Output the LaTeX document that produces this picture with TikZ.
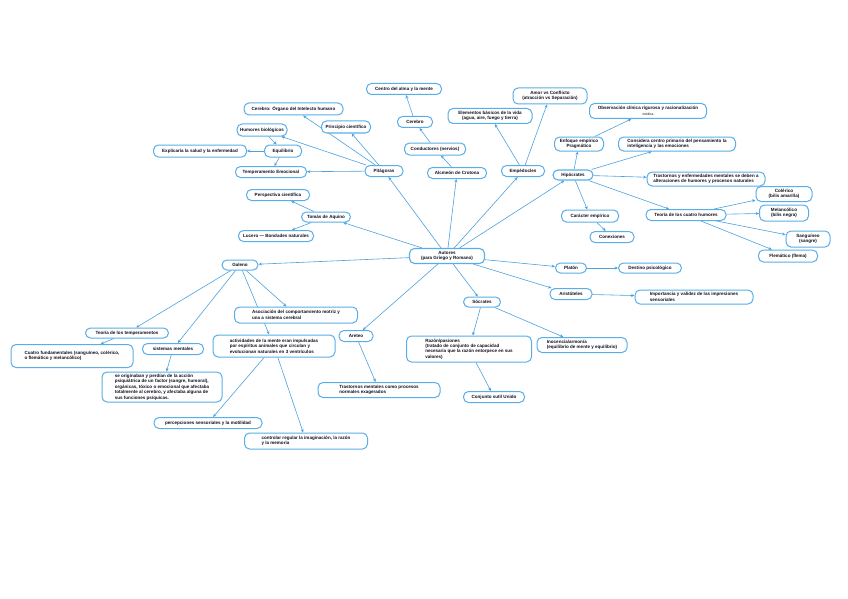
\documentclass[tikz,border=0pt]{standalone}
\usepackage{fontspec}
\newfontfamily\mapfont{Liberation Sans}
\usetikzlibrary{arrows.meta}
\definecolor{boxc}{HTML}{5AAEE8}
\definecolor{linec}{HTML}{4CA2E0}
\definecolor{txtc}{HTML}{10101E}
\pgfdeclarelayer{bg}
\pgfsetlayers{bg,main}
\tikzset{
  bx/.style={draw=boxc, line width=1pt, rounded corners=5pt, fill=white,
    font=\mapfont\bfseries\fontsize{4.55}{5.4}\selectfont, text=txtc, inner sep=1pt, align=center},
  bxl/.style={bx, align=left},
  ar/.style={draw=linec, line width=0.6pt, -{Stealth[length=3.4pt,width=3pt]}},
}
\begin{document}
\begin{tikzpicture}[x=1pt,y=-1pt]
\useasboundingbox (0,0) rectangle (848,599);
% center
\node[bx, line width=1.1pt, minimum width=75pt, minimum height=15pt] (aut) at (447,256) {Autores\\(para Griego y Romano)};
% Pitagoras branch
\node[bx, minimum width=38pt, minimum height=11pt] (pit) at (384,171) {Pitágoras};
\node[bx, minimum width=99pt, minimum height=12pt] (cer1) at (293.5,109) {Cerebro: Órgano del Intelecto humano};
\node[bx, minimum width=49pt, minimum height=12pt] (pri) at (346,127) {Principio científico};
\node[bx, minimum width=50pt, minimum height=12pt] (hum) at (262,130) {Humores biológicos};
\node[bx, minimum width=37pt, minimum height=12pt] (equ) at (283,151) {Equilibrio};
\node[bx, minimum width=93pt, minimum height=12pt] (exp) at (200,151) {Explicaría la salud y la enfermedad};
\node[bx, minimum width=71pt, minimum height=11pt] (tem) at (271,172) {Temperamento Emocional};
% Alcmeon branch
\node[bx, minimum width=75pt, minimum height=11pt] (cen) at (404,89) {Centro del alma y la mente};
\node[bx, minimum width=35pt, minimum height=11pt] (cer2) at (415,122) {Cerebro};
\node[bx, minimum width=61pt, minimum height=12pt] (con) at (435,149) {Conductores (nervios)};
\node[bx, minimum width=59pt, minimum height=11pt] (alc) at (457,173) {Alcmeón de Crotona};
% Empedocles branch
\node[bx, minimum width=84pt, minimum height=15pt] (ele) at (490,116) {Elementos básicos de la vida\\(agua, aire, fuego y tierra)};
\node[bx, minimum width=43pt, minimum height=11pt] (emp) at (523,171) {Empédocles};
\node[bx, minimum width=74pt, minimum height=16pt] (amo) at (550,96) {Amor vs Conflicto\\(atracción vs Separación)};
% Hipocrates branch
\node[bx, minimum width=117pt, minimum height=15pt] (obs) at (648,111) {Observación clínica rigurosa y racionalización\\{\mdseries\fontsize{3.4}{4.2}\selectfont médica}};
\node[bx, minimum width=49pt, minimum height=14pt] (enf) at (579,144) {Enfoque empírico\\Pragmático};
\node[bxl, minimum width=117pt, minimum height=14pt] (cons) at (677,144) {Considera centro primario del pensamiento la\\inteligencia y las emociones};
\node[bx, line width=1.1pt, minimum width=40pt, minimum height=10pt] (hip) at (573,175) {Hipócrates};
\node[bxl, minimum width=118pt, minimum height=14pt] (tra) at (706,179) {Trastornos y enfermedades mentales se deben a\\alteraciones de humores y procesos naturales};
\node[bx, minimum width=80pt, minimum height=11pt] (teo) at (686,215) {Teoría de los cuatro humores};
\node[bx, minimum width=56pt, minimum height=15pt] (col) at (784,194) {Colérico\\(bilis amarilla)};
\node[bx, minimum width=49pt, minimum height=16pt] (mel) at (784,213) {Melancólico\\(bilis negra)};
\node[bx, minimum width=44pt, minimum height=16pt] (san) at (808,239) {Sanguíneo\\(sangre)};
\node[bx, minimum width=59pt, minimum height=12pt] (fle) at (788,256) {Flemático (flema)};
\node[bx, minimum width=57pt, minimum height=12pt] (car) at (590,216) {Carácter empírico};
\node[bx, minimum width=44pt, minimum height=11pt] (cnx) at (612,237) {Conexiones};
% Platon, Aristoteles
\node[bx, minimum width=31pt, minimum height=10pt] (pla) at (571,268) {Platón};
\node[bx, minimum width=63pt, minimum height=10pt] (des) at (650,268) {Destino psicológico};
\node[bx, minimum width=42pt, minimum height=11pt] (ari) at (571,294) {Aristóteles};
\node[bxl, minimum width=118pt, minimum height=14pt] (imp) at (694,297) {Importancia y validez de las impresiones\\sensoriales};
% Tomas de Aquino
\node[bx, minimum width=63pt, minimum height=11pt] (per) at (278,195) {Perspectiva científica};
\node[bx, minimum width=49pt, minimum height=10pt] (tom) at (326,217) {Tomás de Aquino};
\node[bx, minimum width=75pt, minimum height=11pt] (luc) at (276,236) {Lucero — Bondades naturales};
% Galeno
\node[bx, minimum width=36pt, minimum height=10pt] (gal) at (240,265) {Galeno};
\node[bx, minimum width=83pt, minimum height=10pt] (tt) at (127,333) {Teoría de los temperamentos};
\node[bxl, minimum width=122pt, minimum height=23pt] (cua) at (72,356) {Cuatro fundamentales (sanguíneo, colérico,\\o flemático y melancólico)};
\node[bx, minimum width=61pt, minimum height=11pt] (sis) at (173,349) {sistemas mentales};
\node[bxl, minimum width=120pt, minimum height=30pt] (big) at (162,387) {se originaban y perdían de la acción\\psiquiátrica de un factor (sangre, humoral),\\orgánicas, tóxico o emocional que afectaba\\totalmente al cerebro, y afectaba alguna de\\sus funciones psíquicas.};
\node[bxl, minimum width=123pt, minimum height=16pt] (aso) at (296,315) {Asociación del comportamiento motriz y\\una a sistema cerebral};
\node[bxl, minimum width=122pt, minimum height=22pt] (act) at (274,346) {actividades de la mente eran impulsadas\\por espíritus animales que circulan y\\evolucionan naturales en 3 ventrículos};
\node[bx, minimum width=108pt, minimum height=11pt] (prc) at (208,423) {percepciones sensoriales y la motilidad};
\node[bxl, minimum width=123pt, minimum height=16pt] (ctr) at (306,441) {controlar regular la imaginación, la razón\\y la memoria};
% Areteo
\node[bx, minimum width=34pt, minimum height=11pt] (are) at (356,336) {Areteo};
\node[bxl, minimum width=122pt, minimum height=15pt] (trm) at (379,390) {Trastornos mentales como procesos\\normales exagerados};
% Socrates
\node[bx, minimum width=37pt, minimum height=10pt] (soc) at (482,302) {Sócrates};
\node[bxl, minimum width=125pt, minimum height=26pt] (raz) at (469,349) {Razón/pasiones\\(tratado de conjunto de capacidad\\necesaria que la razón entorpece en sus\\valores)};
\node[bxl, minimum width=90pt, minimum height=15pt] (ino) at (582,345) {Inocencia/armonía\\(equilibrio de mente y equilibrio)};
\node[bx, minimum width=61pt, minimum height=11pt] (cju) at (494,397) {Conjunto sutil Unido};
% connectors
\begin{pgfonlayer}{bg}
\fill[white] (0,0) rectangle (848,599);
\foreach \t in {gal,tom,pit,alc,emp,hip,pla,ari,soc,are} \draw[ar] (aut) -- (\t);
\foreach \t in {cer1,pri,hum,tem} \draw[ar] (pit) -- (\t);
\draw[ar] (hum) -- (equ);
\draw[ar] (equ) -- (exp);
\draw[ar] (equ) -- (tem);
\draw[ar] (alc) -- (con);
\draw[ar] (con) -- (cer2);
\draw[ar] (cer2) -- (cen);
\draw[ar] (emp) -- (ele);
\draw[ar] (emp) -- (amo);
\draw[ar] (hip) -- (enf);
\draw[ar] (enf) -- (obs);
\foreach \t in {cons,tra,teo,car} \draw[ar] (hip) -- (\t);
\draw[ar] (car) -- (cnx);
\foreach \t in {col,mel,san,fle} \draw[ar] (teo) -- (\t);
\draw[ar] (pla) -- (des);
\draw[ar] (ari) -- (imp);
\draw[ar] (tom) -- (per);
\draw[ar] (tom) -- (luc);
\foreach \t in {tt,sis,aso,act} \draw[ar] (gal) -- (\t);
\draw[ar] (tt) -- (cua);
\draw[ar] (sis) -- (big);
\draw[ar] (act) -- (prc);
\draw[ar] (act) -- (ctr);
\draw[ar] (are) -- (trm);
\draw[ar] (soc) -- (raz);
\draw[ar] (raz) -- (cju);
\draw[ar] (soc) -- (ino);
\end{pgfonlayer}
\end{tikzpicture}
\end{document}
